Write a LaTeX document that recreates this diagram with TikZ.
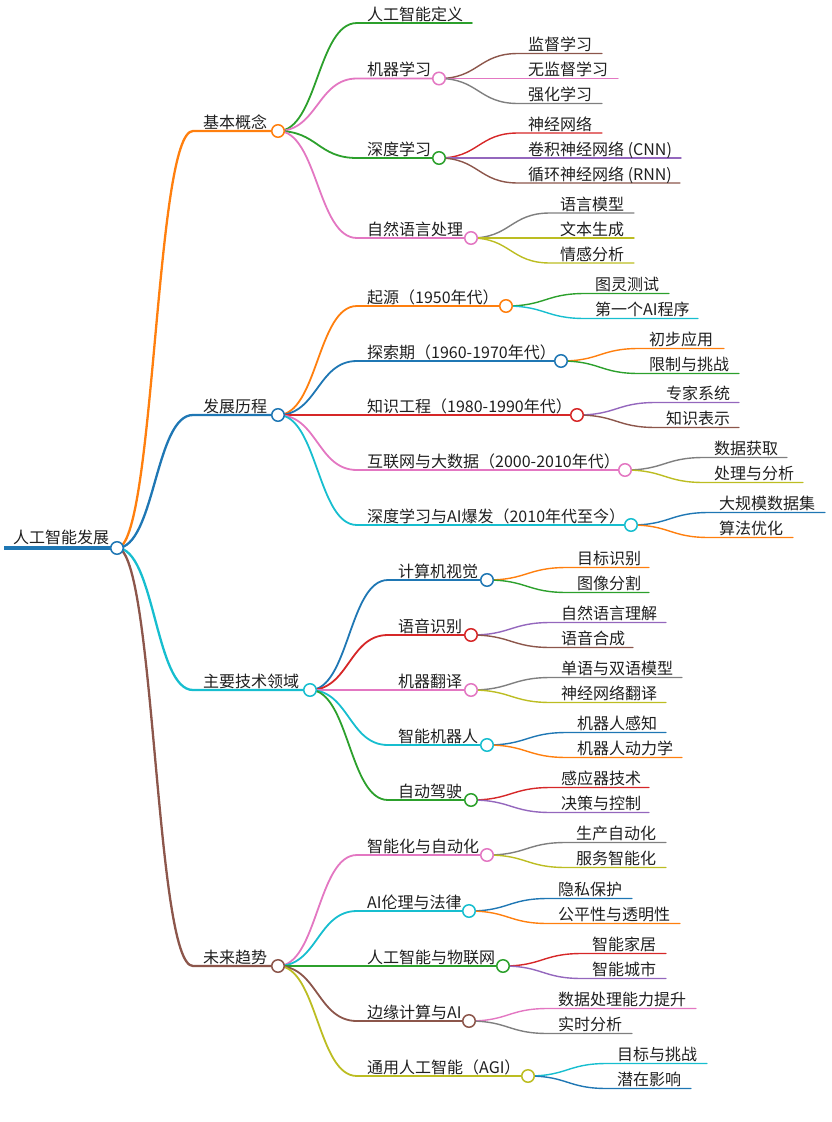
\documentclass[tikz,border=0pt]{standalone}
\usepackage{fontspec}
\setmainfont{Noto Sans CJK SC}
\usetikzlibrary{calc}
\definecolor{mmblue}{HTML}{1F77B4}
\definecolor{mmorange}{HTML}{FF7F0E}
\definecolor{mmgreen}{HTML}{2CA02C}
\definecolor{mmred}{HTML}{D62728}
\definecolor{mmpurple}{HTML}{9467BD}
\definecolor{mmbrown}{HTML}{8C564B}
\definecolor{mmpink}{HTML}{E377C2}
\definecolor{mmgray}{HTML}{7F7F7F}
\definecolor{mmolive}{HTML}{BCBD22}
\definecolor{mmcyan}{HTML}{17BECF}
\tikzset{
  lbl/.style={anchor=base west, inner sep=0pt, text=black!88, font=\fontsize{16}{19}\selectfont},
  dot/.style={circle, fill=white, line width=1.5pt, minimum size=12.5pt, inner sep=0pt},
}
% name, parent, color, line width, x-start, x-end, y, text
\newcommand\mm[8]{%
  \coordinate (#1-s) at (#5,#7);
  \coordinate (#1-e) at (#6,#7);
  \draw[#3, line width=#4, line cap=round] let \p1=(#2-e), \p2=(#1-s) in
    (#2-e) .. controls ({(\x1+\x2)/2},\y1) and ({(\x1+\x2)/2},\y2) .. (#1-s) -- (#1-e);
  \node[lbl] (#1) at ({#5+10},{#7-3}) {#8};
}
\newcommand\mmc[2]{\node[dot, draw=#2] (#1-c) at (#1-e) {};}
\begin{document}
\begin{tikzpicture}[x=1pt,y=-1pt]
\useasboundingbox (0,0) rectangle (831,1122);
% root
\coordinate (root-s) at (4,548);
\coordinate (root-e) at (117,548);
\draw[mmblue, line width=4.5pt] (root-s) -- (root-e);
\node[lbl] (root) at (13,543) {人工智能发展};
% level 1
\mm{a}{root}{mmorange}{2.3pt}{193}{278}{131}{基本概念}
\mm{b}{root}{mmblue}{2.3pt}{193}{278}{415}{发展历程}
\mm{c}{root}{mmcyan}{2.3pt}{193}{310}{690}{主要技术领域}
\mm{d}{root}{mmbrown}{2.3pt}{193}{278}{966}{未来趋势}
% level 2 - a
\mm{a1}{a}{mmgreen}{1.8pt}{357}{472}{23}{人工智能定义}
\mm{a2}{a}{mmpink}{1.8pt}{357}{439}{78.5}{机器学习}
\mm{a3}{a}{mmgreen}{1.8pt}{357}{439}{158}{深度学习}
\mm{a4}{a}{mmpink}{1.8pt}{357}{471}{238}{自然语言处理}
% level 2 - b
\mm{b1}{b}{mmorange}{1.8pt}{357}{506}{306}{起源（1950年代）}
\mm{b2}{b}{mmblue}{1.8pt}{357}{561}{361}{探索期（1960-1970年代）}
\mm{b3}{b}{mmred}{1.8pt}{357}{577}{415}{知识工程（1980-1990年代）}
\mm{b4}{b}{mmpink}{1.8pt}{357}{625}{470}{互联网与大数据（2000-2010年代）}
\mm{b5}{b}{mmcyan}{1.8pt}{357}{631}{525}{深度学习与AI爆发（2010年代至今）}
% level 2 - c
\mm{c1}{c}{mmblue}{1.8pt}{388}{487}{580}{计算机视觉}
\mm{c2}{c}{mmred}{1.8pt}{388}{471}{635}{语音识别}
\mm{c3}{c}{mmpink}{1.8pt}{388}{471}{690}{机器翻译}
\mm{c4}{c}{mmcyan}{1.8pt}{388}{487}{745}{智能机器人}
\mm{c5}{c}{mmgreen}{1.8pt}{388}{471}{800}{自动驾驶}
% level 2 - d
\mm{d1}{d}{mmpink}{1.8pt}{357}{487}{855}{智能化与自动化}
\mm{d2}{d}{mmcyan}{1.8pt}{357}{469}{911}{AI伦理与法律}
\mm{d3}{d}{mmgreen}{1.8pt}{357}{503}{966}{人工智能与物联网}
\mm{d4}{d}{mmbrown}{1.8pt}{357}{469}{1021}{边缘计算与AI}
\mm{d5}{d}{mmolive}{1.8pt}{357}{528}{1076}{通用人工智能（AGI）}
% level 3
\mm{a21}{a2}{mmbrown}{1.4pt}{518}{602}{53.5}{监督学习}
\mm{a22}{a2}{mmpink}{1.4pt}{518}{618}{78.5}{无监督学习}
\mm{a23}{a2}{mmgray}{1.4pt}{518}{602}{103.5}{强化学习}
\mm{a31}{a3}{mmred}{1.4pt}{518}{602}{133}{神经网络}
\mm{a32}{a3}{mmpurple}{1.4pt}{518}{681}{158}{卷积神经网络 (CNN)}
\mm{a33}{a3}{mmbrown}{1.4pt}{518}{680}{183}{循环神经网络 (RNN)}
\mm{a41}{a4}{mmgray}{1.4pt}{550}{634}{213}{语言模型}
\mm{a42}{a4}{mmolive}{1.4pt}{550}{634}{238}{文本生成}
\mm{a43}{a4}{mmolive}{1.4pt}{550}{634}{263}{情感分析}
\mm{b11}{b1}{mmgreen}{1.4pt}{585}{669}{293.5}{图灵测试}
\mm{b12}{b1}{mmcyan}{1.4pt}{585}{698}{318.5}{第一个AI程序}
\mm{b21}{b2}{mmorange}{1.4pt}{639}{724}{348.5}{初步应用}
\mm{b22}{b2}{mmgreen}{1.4pt}{639}{739}{373.5}{限制与挑战}
\mm{b31}{b3}{mmpurple}{1.4pt}{656}{739}{402.5}{专家系统}
\mm{b32}{b3}{mmbrown}{1.4pt}{656}{739}{427.5}{知识表示}
\mm{b41}{b4}{mmgray}{1.4pt}{704}{787}{457.5}{数据获取}
\mm{b42}{b4}{mmolive}{1.4pt}{704}{803}{482.5}{处理与分析}
\mm{b51}{b5}{mmblue}{1.4pt}{709}{825}{512.5}{大规模数据集}
\mm{b52}{b5}{mmorange}{1.4pt}{709}{793}{537.5}{算法优化}
\mm{c11}{c1}{mmorange}{1.4pt}{567}{649}{567.5}{目标识别}
\mm{c12}{c1}{mmgreen}{1.4pt}{567}{649}{592.5}{图像分割}
\mm{c21}{c2}{mmpurple}{1.4pt}{551}{666}{622.5}{自然语言理解}
\mm{c22}{c2}{mmbrown}{1.4pt}{551}{633}{647.5}{语音合成}
\mm{c31}{c3}{mmgray}{1.4pt}{551}{682}{677.5}{单语与双语模型}
\mm{c32}{c3}{mmolive}{1.4pt}{551}{666}{702.5}{神经网络翻译}
\mm{c41}{c4}{mmblue}{1.4pt}{567}{666}{732.5}{机器人感知}
\mm{c42}{c4}{mmorange}{1.4pt}{567}{682}{757.5}{机器人动力学}
\mm{c51}{c5}{mmred}{1.4pt}{551}{649}{787.5}{感应器技术}
\mm{c52}{c5}{mmpurple}{1.4pt}{551}{649}{812.5}{决策与控制}
\mm{d11}{d1}{mmgray}{1.4pt}{566}{666}{842.5}{生产自动化}
\mm{d12}{d1}{mmolive}{1.4pt}{566}{666}{867.5}{服务智能化}
\mm{d21}{d2}{mmblue}{1.4pt}{548}{632}{898.5}{隐私保护}
\mm{d22}{d2}{mmorange}{1.4pt}{548}{680}{923.5}{公平性与透明性}
\mm{d31}{d3}{mmred}{1.4pt}{582}{666}{953.5}{智能家居}
\mm{d32}{d3}{mmpurple}{1.4pt}{582}{666}{978.5}{智能城市}
\mm{d41}{d4}{mmpink}{1.4pt}{548}{696}{1008.5}{数据处理能力提升}
\mm{d42}{d4}{mmgray}{1.4pt}{548}{632}{1033.5}{实时分析}
\mm{d51}{d5}{mmcyan}{1.4pt}{607}{707}{1063.5}{目标与挑战}
\mm{d52}{d5}{mmblue}{1.4pt}{607}{691}{1088.5}{潜在影响}
% circles
\mmc{root}{mmblue}
\mmc{a}{mmorange}\mmc{b}{mmblue}\mmc{c}{mmcyan}\mmc{d}{mmbrown}
\mmc{a2}{mmpink}\mmc{a3}{mmgreen}\mmc{a4}{mmpink}
\mmc{b1}{mmorange}\mmc{b2}{mmblue}\mmc{b3}{mmred}\mmc{b4}{mmpink}\mmc{b5}{mmcyan}
\mmc{c1}{mmblue}\mmc{c2}{mmred}\mmc{c3}{mmpink}\mmc{c4}{mmcyan}\mmc{c5}{mmgreen}
\mmc{d1}{mmpink}\mmc{d2}{mmcyan}\mmc{d3}{mmgreen}\mmc{d4}{mmbrown}\mmc{d5}{mmolive}
\end{tikzpicture}
\end{document}
